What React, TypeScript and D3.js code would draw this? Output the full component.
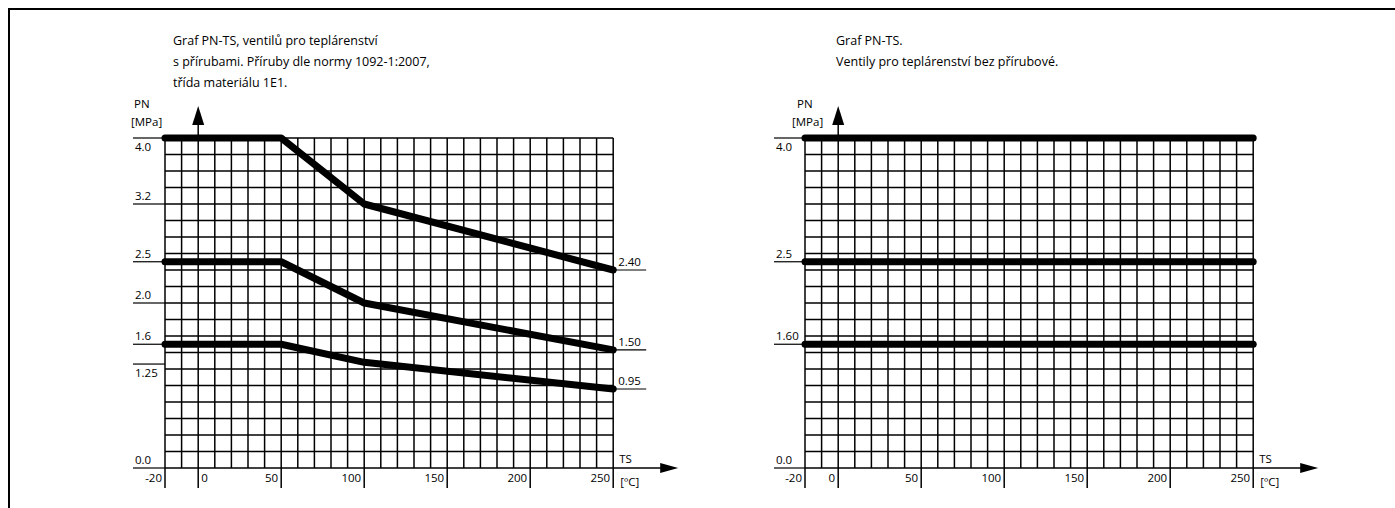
import React from 'react'
import * as d3 from 'd3'

// teploty (ºC) a tlaky (MPa)
const xTicks = [-20, 0, 50, 100, 150, 200, 250]
const tempPoints = [-20, 50, 100, 250]
const pn40 = [4.0, 4.0, 3.2, 2.40]
const pn25 = [2.5, 2.5, 2.0, 1.50]
const pn16 = [1.6, 1.6, 1.28, 0.95]
const endLabels = ['2.40', '1.50', '0.95']

const leftYTicks = [4.0, 3.2, 2.5, 2.0, 1.6, 1.25, 0.0]
const leftYLabels = ['4.0', '3.2', '2.5', '2.0', '1.6', '1.25', '0.0']
const rightLevels = [4.0, 2.5, 1.6]
const rightYTicks = [4.0, 2.5, 1.6, 0.0]
const rightYLabels = ['4.0', '2.5', '1.60', '0.0']

const leftTitle = [
    'Graf PN-TS, ventilů pro teplárenství',
    's přírubami. Příruby dle normy 1092-1:2007,',
    'třída materiálu 1E1.',
]
const rightTitle = ['Graf PN-TS.', 'Ventily pro teplárenství bez přírubové.']

const W = 1395
const H = 508
const CELL = 16.6
const ROW = 16.5
const TOP = 138
const ROWS = 20
const BOTTOM = TOP + ROWS * ROW
const FONT = '"Open Sans", sans-serif'
const TICK = 11.5

// schematic (non-linear) pressure axis: row index of each labelled pressure
const yScale = d3.scaleLinear()
    .domain([0, 1.25, 1.6, 2.0, 2.5, 3.2, 4.0])
    .range([20, 13.7, 12.5, 10, 7.5, 4, 0].map(r => TOP + r * ROW))

const Chart = ({ x0, zeroEnd, yTicks, yLabels, belowLabels, labelX, pnX, mpaX, series, titleLines, titleX }) => {
    const x = d3.scaleLinear().domain([-20, 250]).range([x0, x0 + 27 * CELL])
    const gx1 = x(250)
    const vLines = d3.range(-20, 251, 10)
    const hLines = d3.range(0, ROWS + 1)
    const ax = x(0)
    const line = d3.line().x(d => x(d[0])).y(d => yScale(d[1]))
    return (
        <g>
            {titleLines.map((t, i) => (
                <text key={t} x={titleX} y={45 + i * 21} fontSize={12.5} fontFamily={FONT}>{t}</text>
            ))}
            {vLines.map(v => (
                <line key={'v' + v} x1={x(v)} x2={x(v)} y1={TOP} y2={xTicks.includes(v) ? BOTTOM + 20 : BOTTOM}
                    stroke='#000' strokeWidth={1.5} />
            ))}
            {hLines.map(r => (
                <line key={'h' + r} x1={x0} x2={gx1} y1={TOP + r * ROW} y2={TOP + r * ROW}
                    stroke='#000' strokeWidth={1.5} />
            ))}
            {/* y axis arrow */}
            <line x1={ax} x2={ax} y1={TOP} y2={124} stroke='#000' strokeWidth={1.5} />
            <path d={`M${ax},106L${ax - 6},125L${ax + 6},125Z`} fill='#000' />
            <text x={pnX} y={108} fontSize={TICK} fontFamily={FONT}>PN</text>
            <text x={mpaX} y={126} fontSize={TICK} fontFamily={FONT}>[MPa]</text>
            {/* x axis arrow */}
            <line x1={gx1} x2={gx1 + 50} y1={BOTTOM} y2={BOTTOM} stroke='#000' strokeWidth={1.5} />
            <path d={`M${gx1 + 65},${BOTTOM}L${gx1 + 47},${BOTTOM - 5}L${gx1 + 47},${BOTTOM + 5}Z`} fill='#000' />
            <text x={gx1 + 6} y={463} fontSize={TICK} fontFamily={FONT}>TS</text>
            <text x={gx1 + 7} y={486} fontSize={TICK} fontFamily={FONT}>[ºC]</text>
            {xTicks.map(v => {
                const start = v === 0 && !zeroEnd
                return (
                    <text key={'xt' + v} x={start ? x(v) + 3 : x(v) - 3} y={482}
                        textAnchor={start ? 'start' : 'end'} fontSize={TICK} fontFamily={FONT}>{v}</text>
                )
            })}
            {/* y tick labels with lead lines */}
            {yTicks.map((v, i) => {
                const y = yScale(v)
                const below = belowLabels.includes(v)
                return (
                    <g key={'yt' + v}>
                        <line x1={labelX - 2} x2={x0} y1={y} y2={y} stroke='#000' strokeWidth={1.2} />
                        <text x={labelX} y={below ? y + 13 : y - 4} fontSize={TICK} fontFamily={FONT}>{yLabels[i]}</text>
                    </g>
                )
            })}
            {series.map((s, i) => (
                <path key={'s' + i} d={line(s.points)} fill='none' stroke='#000' strokeWidth={7}
                    strokeLinecap='round' strokeLinejoin='round' />
            ))}
            {series.filter(s => s.end).map((s, i) => {
                const last = s.points[s.points.length - 1]
                const y = yScale(last[1])
                return (
                    <g key={'e' + i}>
                        <line x1={gx1} x2={gx1 + 33} y1={y} y2={y} stroke='#000' strokeWidth={1.2} />
                        <text x={gx1 + 5} y={y - 4} fontSize={TICK} fontFamily={FONT}>{s.end}</text>
                    </g>
                )
            })}
        </g>
    )
}

const App = () => {
    const leftSeries = [pn40, pn25, pn16].map((vals, i) => ({
        points: tempPoints.map((t, j) => [t, vals[j]]),
        end: endLabels[i],
    }))
    const rightSeries = rightLevels.map(v => ({ points: [[-20, v], [250, v]], end: null }))
    return (
        <div style={{ position: 'fixed', left: 0, top: 0, background: '#fff' }}>
            <svg width={W} height={H} style={{ display: 'block' }}>
                <rect x={0} y={0} width={W} height={H} fill='#fff' />
                <rect x={9} y={9} width={W + 20} height={H + 20} fill='none' stroke='#000' strokeWidth={2} />
                <Chart x0={165} zeroEnd={false} yTicks={leftYTicks} yLabels={leftYLabels}
                    belowLabels={[4.0, 1.25]} labelX={135} pnX={134} mpaX={131}
                    series={leftSeries} titleLines={leftTitle} titleX={173} />
                <Chart x0={805} zeroEnd={true} yTicks={rightYTicks} yLabels={rightYLabels}
                    belowLabels={[4.0]} labelX={776} pnX={797} mpaX={792}
                    series={rightSeries} titleLines={rightTitle} titleX={836} />
            </svg>
        </div>
    )
}

export default App
